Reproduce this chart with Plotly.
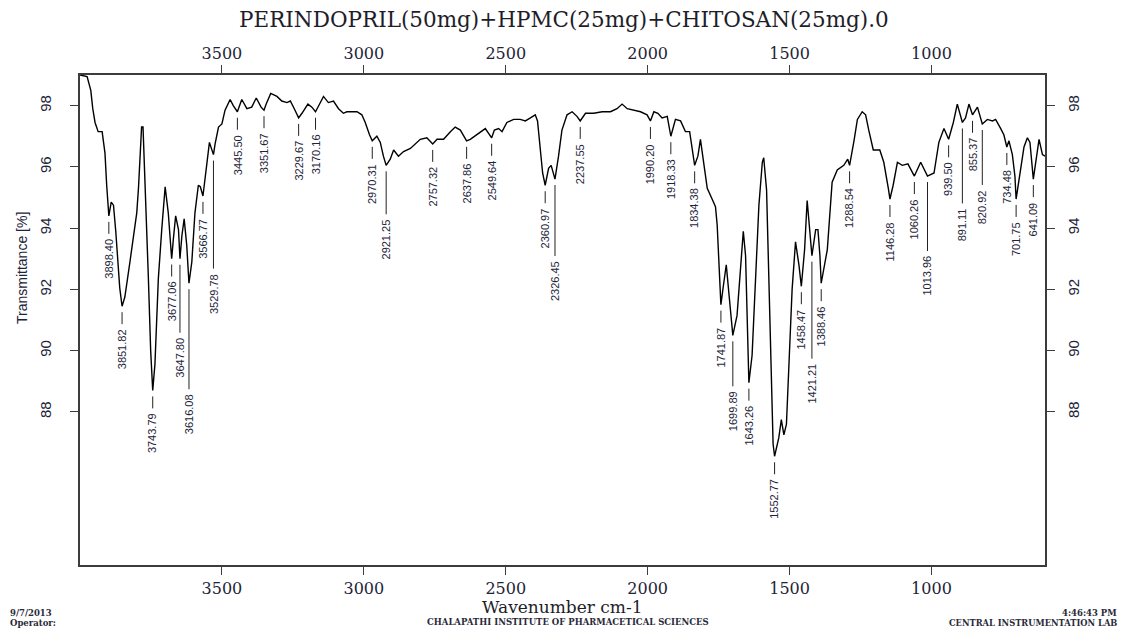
import numpy as np
import plotly.graph_objects as go

# ---------------- data ----------------
wavenumber = [4000, 3975, 3962, 3955, 3947, 3936, 3922, 3912, 3906, 3898.4, 3890, 3882, 3874, 3870, 3860,
              3851.8, 3842, 3824, 3812, 3800, 3794, 3788, 3783, 3778, 3771, 3759, 3751, 3743.8, 3736, 3724,
              3712, 3700, 3689, 3677, 3671, 3663, 3653, 3647.8, 3641, 3633, 3624, 3616.1, 3606, 3595, 3583,
              3576, 3566.8, 3553, 3544, 3529.8, 3524, 3512, 3500, 3489, 3471, 3460, 3445.5, 3430, 3412, 3395,
              3379, 3362, 3351.7, 3344, 3328, 3306, 3289, 3271, 3259, 3245, 3229.7, 3218, 3197, 3183, 3170.2,
              3160, 3142, 3125, 3107, 3089, 3072, 3060, 3024, 3007, 2995, 2980, 2970.3, 2954, 2942, 2931,
              2921.3, 2907, 2895, 2878, 2860, 2836, 2819, 2801, 2778, 2757.3, 2742, 2719, 2695, 2678, 2660,
              2637.9, 2625, 2601, 2572, 2549.6, 2540, 2525, 2513, 2496, 2472, 2449, 2431, 2413, 2396, 2388,
              2378, 2370, 2361.0, 2349, 2340, 2331, 2326.5, 2314, 2302, 2284, 2266, 2249, 2237.6, 2219, 2190,
              2160, 2131, 2108, 2090, 2072, 2049, 2025, 2002, 1990.2, 1978, 1964, 1949, 1931, 1918.3, 1902,
              1884, 1867, 1852, 1843, 1834.4, 1823, 1814, 1802, 1790, 1773, 1761, 1755, 1749, 1741.9, 1732,
              1723, 1714, 1705, 1699.9, 1685, 1673, 1663, 1655, 1649, 1643.3, 1632, 1620, 1608, 1596, 1591,
              1581, 1573, 1565, 1558, 1552.8, 1538, 1529, 1520, 1511, 1503, 1491, 1479, 1467, 1458.5, 1447,
              1438, 1426, 1421.2, 1408, 1400, 1393, 1388.5, 1367, 1350, 1332, 1309, 1295, 1288.5, 1273, 1261,
              1244, 1232, 1221, 1205, 1182, 1168, 1152, 1146.3, 1135, 1120, 1103, 1083, 1060.3, 1038, 1014.0,
              991, 974, 956, 939.5, 923, 909, 891.1, 880, 868, 855.4, 838, 820.9, 803, 785, 774, 756, 745,
              734.5, 727, 715, 706, 701.8, 686, 674, 662, 653, 641.1, 627, 621, 609, 603, 600]

transmittance = [99.0, 98.95, 98.5, 97.9, 97.45, 97.15, 97.15, 96.45, 95.4, 94.4, 94.85, 94.75, 93.9, 93.4, 92.05,
                 91.45, 91.75, 92.9, 93.65, 94.5, 95.3, 96.6, 97.3, 97.3, 95.6, 92.35, 90.0, 88.7, 89.55, 92.35,
                 93.95, 95.35, 94.5, 93.0, 93.65, 94.4, 93.95, 93.0, 93.75, 94.3, 93.45, 92.2, 92.9, 94.5, 95.4,
                 95.35, 95.05, 96.25, 96.8, 96.4, 96.75, 97.3, 97.4, 97.85, 98.2, 98.0, 97.8, 98.2, 97.9, 97.95,
                 98.25, 97.95, 97.85, 98.05, 98.4, 98.3, 98.15, 98.1, 98.15, 97.9, 97.6, 97.75, 98.05, 97.95, 97.8,
                 97.98, 98.3, 98.1, 98.15, 97.9, 97.75, 97.8, 97.8, 97.7, 97.45, 97.05, 96.85, 97.0, 96.8, 96.35,
                 96.05, 96.25, 96.55, 96.35, 96.5, 96.6, 96.75, 96.9, 96.95, 96.75, 96.9, 96.9, 97.15, 97.3, 97.2,
                 96.85, 96.9, 97.05, 97.25, 96.95, 97.2, 97.25, 97.15, 97.45, 97.55, 97.55, 97.5, 97.6, 97.7, 97.5,
                 96.65, 95.8, 95.4, 95.95, 96.05, 95.75, 95.6, 96.35, 97.2, 97.7, 97.8, 97.65, 97.5, 97.75, 97.75,
                 97.8, 97.8, 97.9, 98.05, 97.9, 97.85, 97.8, 97.7, 97.5, 97.8, 97.75, 97.6, 97.65, 97.0, 97.55,
                 97.5, 97.15, 97.15, 96.65, 96.05, 96.35, 96.9, 96.1, 95.3, 94.95, 94.7, 94.1, 93.0, 91.5, 92.2,
                 92.8, 91.9, 90.9, 90.5, 91.15, 92.8, 93.9, 93.1, 90.85, 88.95, 89.85, 92.55, 94.75, 96.15, 96.3,
                 95.25, 92.55, 89.3, 86.95, 86.55, 87.15, 87.75, 87.25, 87.6, 89.3, 92.0, 93.55, 92.8, 92.1, 93.3,
                 94.9, 93.75, 93.1, 93.95, 93.95, 93.1, 92.2, 93.3, 95.5, 95.9, 96.05, 96.25, 96.05, 96.85, 97.55,
                 97.8, 97.7, 97.2, 96.55, 96.55, 96.15, 95.3, 94.95, 95.4, 96.15, 96.05, 96.1, 95.7, 96.15, 95.7,
                 95.8, 96.8, 97.25, 96.9, 97.45, 98.05, 97.45, 97.6, 98.05, 97.7, 97.95, 97.4, 97.55, 97.5, 97.55, 97.25, 97.05,
                 96.65, 96.85, 96.4, 95.7, 94.95, 95.9, 96.65, 96.95, 96.8, 95.6, 96.65, 96.9, 96.4, 96.35, 96.35]

peak_labels = ["3898.40", "3851.82", "3743.79", "3677.06", "3647.80", "3616.08", "3566.77", "3529.78",
               "3445.50", "3351.67", "3229.67", "3170.16", "2970.31", "2921.25", "2757.32", "2637.86",
               "2549.64", "2360.97", "2326.45", "2237.55", "1990.20", "1918.33", "1834.38", "1741.87",
               "1699.89", "1643.26", "1552.77", "1458.47", "1421.21", "1388.46", "1288.54", "1146.28",
               "1060.26", "1013.96", "939.50", "891.11", "855.37", "820.92", "734.48", "701.75", "641.09"]

x_ticks = [3500, 3000, 2500, 2000, 1500, 1000]
y_ticks = [88, 90, 92, 94, 96, 98]

# ---------------- style ----------------
long_line_px = {"3647.80": 68, "3616.08": 100, "3529.78": 108, "2921.25": 43, "2326.45": 71,
                "1699.89": 45, "1421.21": 97, "1013.96": 69, "891.11": 75, "820.92": 55}
short_line_px = 12
gap_px = 6
text_gap_px = 4

X_RANGE = [4000, 600]
Y_RANGE = [83, 99]
OFF = 8                      # page body margin of the written html
PAGE_W, PAGE_H = 1134, 628
W, H = PAGE_W - OFF, PAGE_H - OFF
PL, PT, PR, PB = 80, 75, 1045, 565   # plot box in page pixels
L, T, R, B = PL - OFF, PT - OFF, PAGE_W - PR, PAGE_H - PB
plot_w = PR - PL
plot_h = PB - PT

axis_col = "#3c3c3c"
txt_col = "#1d2438"

fig = go.Figure()
fig.add_trace(go.Scatter(x=wavenumber, y=transmittance, mode="lines",
                         line=dict(color="black", width=1.4), showlegend=False, hoverinfo="skip"))
fig.add_trace(go.Scatter(x=[2000], y=[90], xaxis="x2", yaxis="y2", mode="markers",
                         marker=dict(opacity=0), showlegend=False, hoverinfo="skip"))

wn_arr = np.array(wavenumber, dtype=float)
tr_arr = np.array(transmittance, dtype=float)
order = np.argsort(wn_arr)
shapes = []
annotations = []
for lab in peak_labels:
    w = float(lab)
    tmin = float(np.interp(w, wn_arr[order], tr_arr[order]))
    ln = long_line_px.get(lab, short_line_px)
    shapes.append(dict(type="line", xref="x", yref="y", ysizemode="pixel", yanchor=tmin,
                       x0=w, x1=w, y0=-gap_px, y1=-(gap_px + ln),
                       line=dict(color="#222222", width=1)))
    annotations.append(dict(x=w, y=tmin, xref="x", yref="y", text=lab, showarrow=False,
                            textangle=-90, xanchor="center", yanchor="top",
                            yshift=-(gap_px + ln + text_gap_px), borderpad=0,
                            font=dict(family="Liberation Sans, Arial", size=11, color=txt_col)))

def px_x(px):
    return (px - PL) / plot_w

def px_y(py):
    return (PB - py) / plot_h

serif = "DejaVu Serif"
foot_col = "#2a2a3a"
annotations += [
    dict(xref="paper", yref="paper", x=px_x(564), y=px_y(20), text="PERINDOPRIL(50mg)+HPMC(25mg)+CHITOSAN(25mg).0",
         showarrow=False, xanchor="center", yanchor="middle", font=dict(family=serif, size=21.5, color="#1e1e2a")),
    dict(xref="paper", yref="paper", x=px_x(562), y=px_y(607), text="Wavenumber cm-1",
         showarrow=False, xanchor="center", yanchor="middle", font=dict(family=serif, size=17, color="#1e1e2a")),
    dict(xref="paper", yref="paper", x=px_x(22), y=px_y(268), text="Transmittance [%]", textangle=-90,
         showarrow=False, xanchor="center", yanchor="middle",
         font=dict(family="Liberation Sans, Arial", size=14, color=txt_col)),
    dict(xref="paper", yref="paper", x=px_x(OFF), y=px_y(613), text="<b>9/7/2013</b>",
         showarrow=False, xanchor="left", yanchor="middle", font=dict(family=serif, size=8.5, color=foot_col)),
    dict(xref="paper", yref="paper", x=px_x(OFF), y=px_y(623), text="<b>Operator:</b>",
         showarrow=False, xanchor="left", yanchor="middle", font=dict(family=serif, size=8.5, color=foot_col)),
    dict(xref="paper", yref="paper", x=px_x(568), y=px_y(622), text="<b>CHALAPATHI INSTITUTE OF PHARMACETICAL SCIENCES</b>",
         showarrow=False, xanchor="center", yanchor="middle", font=dict(family=serif, size=8.5, color=foot_col)),
    dict(xref="paper", yref="paper", x=px_x(1119), y=px_y(613), text="<b>4:46:43 PM</b>",
         showarrow=False, xanchor="right", yanchor="middle", font=dict(family=serif, size=8.5, color=foot_col)),
    dict(xref="paper", yref="paper", x=px_x(1119), y=px_y(623), text="<b>CENTRAL INSTRUMENTATION LAB</b>",
         showarrow=False, xanchor="right", yanchor="middle", font=dict(family=serif, size=8.3, color=foot_col)),
]

xcommon = dict(range=X_RANGE, tickvals=x_ticks, ticks="outside", ticklen=8, tickwidth=1.2,
               tickcolor=axis_col, showline=True, linecolor=axis_col, linewidth=1.5,
               showgrid=False, zeroline=False,
               tickfont=dict(family=serif, size=16, color=txt_col))
ycommon = dict(range=Y_RANGE, tickvals=y_ticks, ticks="outside", ticklen=8, tickwidth=1.2,
               tickcolor=axis_col, showline=True, linecolor=axis_col, linewidth=1.5,
               showgrid=False, zeroline=False, tickangle=-90,
               tickfont=dict(family="Liberation Sans, Arial", size=15, color=txt_col))

fig.update_layout(
    width=W, height=H,
    margin=dict(l=L, r=R, t=T, b=B, autoexpand=False),
    paper_bgcolor="white", plot_bgcolor="white",
    xaxis=dict(**xcommon, side="bottom", mirror=True),
    xaxis2=dict(**xcommon, side="top", overlaying="x", anchor="y"),
    yaxis=dict(**ycommon, side="left", mirror=True, ticklabelstandoff=13),
    yaxis2=dict(**ycommon, side="right", overlaying="y", anchor="x", ticklabelstandoff=6),
    shapes=shapes,
    annotations=annotations,
)

fig.write_html("out.html")
